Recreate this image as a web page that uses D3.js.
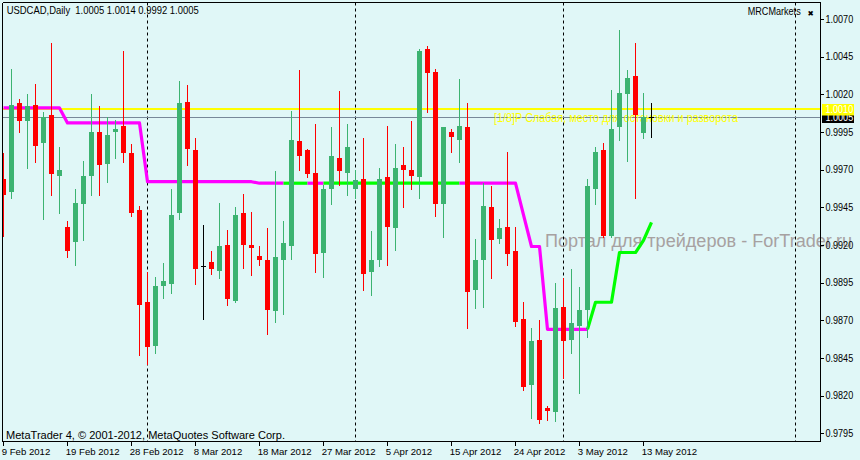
<!DOCTYPE html>
<html><head><meta charset="utf-8">
<script src="https://cdn.jsdelivr.net/npm/d3@7"></script>
<style>html,body{margin:0;padding:0;background:#e0f7f7;}svg{display:block;}</style>
</head><body><svg id="c" width="860" height="460"></svg>
<script>
// ---- data (USDCAD, Daily) ----
const opens  = [0.9964,0.9955,1.0014,1.0002,1.0013,0.9988,1.0006,0.9966,0.9932,0.9922,0.9947,0.9966,0.9995,0.9974,0.9995,0.9999,0.9981,0.9943,0.9882,0.9853,0.9893,0.9894,0.9941,1.0015,0.9983,0.9906,0.9909,0.9903,0.9920,0.9883,0.9941,0.9920,0.9913,0.9910,0.9876,0.9910,0.9919,0.9989,0.9983,0.9968,0.9915,0.9957,0.9978,0.9968,0.9957,0.9964,0.9902,0.9910,0.9965,0.9931,0.9973,0.9970,0.9965,1.0050,1.0035,0.9947,0.9995,0.9990,0.9998,0.9890,0.9910,0.9945,0.9924,0.9932,0.9916,0.9871,0.9827,0.9857,0.9812,0.9809,0.9879,0.9857,0.9866,0.9877,0.9957,0.9983,0.9926,0.9998,1.0020,1.0032,0.9994,1.0005];
const highs  = [0.9981,1.0037,1.0017,1.0020,1.0027,1.0008,1.0054,0.9985,0.9936,0.9957,0.9976,1.0020,1.0012,1.0005,1.0003,1.0049,0.9987,0.9946,0.9902,0.9899,0.9908,0.9957,1.0029,1.0026,0.9991,0.9933,0.9916,0.9948,0.9930,0.9945,0.9954,0.9942,0.9919,0.9931,0.9969,0.9936,1.0009,1.0036,0.9984,1.0000,0.9960,0.9998,1.0022,1.0000,0.9970,0.9991,0.9929,0.9971,0.9999,0.9987,0.9985,1.0002,1.0050,1.0052,1.0037,0.9998,0.9997,1.0030,1.0014,0.9924,0.9961,0.9959,0.9937,0.9982,0.9932,0.9882,0.9865,0.9870,0.9813,0.9895,0.9898,0.9904,0.9892,0.9964,0.9985,0.9988,1.0023,1.0063,1.0036,1.0054,1.0021,1.0014];
const lows   = [0.9926,0.9951,0.9995,0.9971,0.9975,0.9937,0.9953,0.9941,0.9912,0.9907,0.9923,0.9953,0.9953,0.9962,0.9978,0.9975,0.9939,0.9847,0.9841,0.9848,0.9885,0.9888,0.9937,0.9973,0.9894,0.9871,0.9901,0.9898,0.9880,0.9882,0.9905,0.9900,0.9907,0.9861,0.9869,0.9874,0.9911,0.9970,0.9965,0.9902,0.9899,0.9947,0.9960,0.9953,0.9951,0.9890,0.9887,0.9906,0.9907,0.9917,0.9945,0.9957,0.9951,1.0008,0.9939,0.9925,0.9982,0.9975,0.9865,0.9878,0.9879,0.9898,0.9921,0.9907,0.9866,0.9824,0.9805,0.9802,0.9804,0.9803,0.9832,0.9848,0.9822,0.9859,0.9947,0.9925,0.9925,0.9990,0.9976,0.9951,0.9991,0.9992];
const closes = [0.9953,1.0013,1.0002,1.0012,0.9986,1.0005,0.9967,0.9970,0.9916,0.9948,0.9966,0.9995,0.9973,0.9993,0.9997,0.9981,0.9941,0.9880,0.9852,0.9893,0.9896,0.9940,1.0014,0.9984,0.9904,0.9906,0.9904,0.9919,0.9884,0.9940,0.9920,0.9918,0.9910,0.9877,0.9912,0.9921,0.9990,0.9979,0.9967,0.9914,0.9957,0.9979,0.9969,0.9985,0.9963,0.9901,0.9910,0.9964,0.9932,0.9971,0.9970,0.9966,1.0049,1.0034,0.9947,0.9998,0.9992,0.9999,0.9889,0.9910,0.9946,0.9923,0.9931,0.9914,0.9869,0.9826,0.9856,0.9804,0.9810,0.9878,0.9856,0.9868,0.9877,0.9959,0.9982,0.9926,0.9997,1.0021,1.0031,1.0006,1.0005,1.0005];
// trailing trend indicator (per bar) and its direction (1 = up / green, 0 = down / magenta)
const trend = [1.0011,1.0011,1.0011,1.0011,1.0011,1.0011,1.0011,1.0011,
  1.0001,1.0001,1.0001,1.0001,1.0001,1.0001,1.0001,1.0001,1.0001,1.0001,
  0.9962,0.9962,0.9962,0.9962,0.9962,0.9962,0.9962,0.9962,0.9962,0.9962,0.9962,0.9962,0.9962,0.9962,
  0.9961,0.9961,0.9961,0.9961,0.9961,0.9961,0.9961,0.9961,0.9961,0.9961,0.9961,0.9961,0.9961,0.9961,0.9961,0.9961,0.9961,0.9961,0.9961,0.9961,0.9961,0.9961,0.9961,0.9961,0.9961,0.9961,0.9961,0.9961,0.9961,0.9961,0.9961,0.9961,0.9961,
  0.9940,0.9919,0.9919,
  0.9864,0.9864,0.9864,0.9864,0.9864,0.9864,
  0.9882,0.9882,0.9882,0.9915,0.9915,0.9915,0.9923,0.9935];
const trendUp = [0,0,0,0,0,0,0,0,0,0,0,0,0,0,0,0,0,0,0,0,0,0,0,0,0,0,0,0,0,0,0,0,0,0,0,0,
  1,1,1,0,0,
  1,1,1,1,1,1,1,1,1,1,1,1,1,1,1,1,1,
  0,0,0,0,0,0,0,0,0,0,0,0,0,0,0,0,
  1,1,1,1,1,1,1,1];
const separatorBars = [18, 44, 70, 99];
const xTickBars   = [0, 8, 16, 24, 32, 40, 48, 56, 64, 72, 80];
const xTickLabels = ["9 Feb 2012","19 Feb 2012","28 Feb 2012","8 Mar 2012","18 Mar 2012","27 Mar 2012","5 Apr 2012","15 Apr 2012","24 Apr 2012","3 May 2012","13 May 2012"];
const yTicks = [1.0070,1.0045,1.0020,0.9995,0.9970,0.9945,0.9920,0.9895,0.9870,0.9845,0.9820,0.9795];
const murreyLevel = 1.0010;
const murreyText = "[1/8]P Слабая, место для остановки и разворота";
const bid = 1.0005;
const title = "USDCAD,Daily  1.0005 1.0014 0.9992 1.0005";

// ---- drawing ----
const svg = d3.select("#c");
const F = "'Liberation Sans', Arial, sans-serif";
const P = {l:2.5, r:820.5, t:2.5, b:441.5};
const x = d3.scaleLinear().domain([0, 1]).range([3, 11]);        // bar index -> candle centre
const y = d3.scaleLinear().domain([0.9795, 1.0070]).range([433.3, 19]);
const ry = v => Math.round(y(v));

svg.append("rect").attr("width",860).attr("height",460).attr("fill","#e0f7f7");

svg.append("defs").append("clipPath").attr("id","clip")
  .append("rect").attr("x",P.l+0.5).attr("y",P.t+0.5).attr("width",P.r-P.l-1).attr("height",P.b-P.t-1);

// watermark (behind everything)
svg.append("text").attr("x",545).attr("y",246.5).attr("font-family",F).attr("font-size",17.5)
  .attr("fill","#a7a1a1").attr("textLength",307).attr("lengthAdjust","spacingAndGlyphs")
  .text("Портал для трейдеров - ForTrader.ru");

const g = svg.append("g").attr("clip-path","url(#clip)");

// period separators
g.selectAll("line.sep").data(separatorBars).join("line")
  .attr("x1",d=>x(d)+0.5).attr("x2",d=>x(d)+0.5).attr("y1",P.t).attr("y2",P.b)
  .attr("stroke","#000").attr("stroke-width",1).attr("stroke-dasharray","3,3");

// murrey level and bid line
g.append("line").attr("x1",P.l).attr("x2",P.r).attr("y1",ry(murreyLevel)).attr("y2",ry(murreyLevel))
  .attr("stroke","#ffff00").attr("stroke-width",2);
g.append("line").attr("x1",P.l).attr("x2",P.r).attr("y1",ry(bid)+0.5).attr("y2",ry(bid)+0.5)
  .attr("stroke","#778899").attr("stroke-width",1);
g.append("text").attr("x",494).attr("y",122).attr("font-family",F).attr("font-size",12)
  .attr("fill","#ffff00").attr("textLength",244).attr("lengthAdjust","spacingAndGlyphs").text(murreyText);

// trend indicator
const segs = [];
for (let i = 1; i < trend.length; i++) {
  const col = trendUp[i] ? "#00ff00" : "#ff00ff";
  if (segs.length && segs[segs.length-1].col === col) segs[segs.length-1].pts.push(i);
  else segs.push({col, pts:[i-1, i]});
}
const tl = d3.line().x(i => x(i)+0.5).y(i => y(trend[i]));
g.selectAll("path.trend").data(segs).join("path").attr("class","trend")
  .attr("d", d => tl(d.pts)).attr("fill","none").attr("stroke", d => d.col)
  .attr("stroke-width",3.2).attr("stroke-linejoin","round");

// candles
const bars = d3.range(opens.length).map(i => ({i, o:opens[i], h:highs[i], l:lows[i], c:closes[i]}));
const col = d => d.c > d.o ? "#3cb371" : (d.c < d.o ? "#ff0000" : "#000000");
const cg = g.append("g").attr("shape-rendering","crispEdges");
cg.selectAll("line.wick").data(bars).join("line")
  .attr("x1",d=>x(d.i)+0.5).attr("x2",d=>x(d.i)+0.5)
  .attr("y1",d=>ry(d.h)).attr("y2",d=>ry(d.l)+1).attr("stroke",col).attr("stroke-width",1);
cg.selectAll("rect.body").data(bars.filter(d=>d.o!==d.c)).join("rect")
  .attr("x",d=>x(d.i)-2).attr("width",5)
  .attr("y",d=>ry(Math.max(d.o,d.c)))
  .attr("height",d=>Math.max(1, ry(Math.min(d.o,d.c)) - ry(Math.max(d.o,d.c))))
  .attr("fill",col);
cg.selectAll("line.doji").data(bars.filter(d=>d.o===d.c)).join("line")
  .attr("x1",d=>x(d.i)-2).attr("x2",d=>x(d.i)+3)
  .attr("y1",d=>ry(d.o)+0.5).attr("y2",d=>ry(d.o)+0.5).attr("stroke","#000");

// frame
const fr = svg.append("g").attr("stroke","#000").attr("stroke-width",1).attr("shape-rendering","crispEdges");
fr.append("line").attr("x1",P.l).attr("x2",P.r).attr("y1",P.t).attr("y2",P.t);
fr.append("line").attr("x1",P.l).attr("x2",P.r).attr("y1",P.b).attr("y2",P.b);
fr.append("line").attr("x1",P.l).attr("x2",P.l).attr("y1",P.t).attr("y2",P.b);
fr.append("line").attr("x1",P.r).attr("x2",P.r).attr("y1",P.t).attr("y2",P.b);

// y axis
const ya = svg.append("g");
ya.selectAll("line").data(yTicks).join("line").attr("x1",P.r).attr("x2",824)
  .attr("y1",d=>ry(d)+0.5).attr("y2",d=>ry(d)+0.5).attr("stroke","#000").attr("shape-rendering","crispEdges");
ya.selectAll("text").data(yTicks).join("text").attr("x",825.5).attr("y",d=>y(d)+3.6)
  .attr("font-family",F).attr("font-size",10).attr("fill","#000")
  .attr("textLength",27.7).attr("lengthAdjust","spacingAndGlyphs").text(d=>d.toFixed(4));

// x axis
const xa = svg.append("g");
xa.selectAll("line").data(xTickBars).join("line").attr("x1",d=>x(d)+0.5).attr("x2",d=>x(d)+0.5)
  .attr("y1",P.b).attr("y2",446).attr("stroke","#000").attr("shape-rendering","crispEdges");
xa.selectAll("text").data(xTickBars).join("text").attr("x",d=>x(d)-1.3).attr("y",455)
  .attr("font-family",F).attr("font-size",9.6).attr("fill","#000").text((d,i)=>xTickLabels[i]);

// price labels
const bidY = y(bid), mY = y(murreyLevel);
svg.append("rect").attr("x",822).attr("y",Math.round(bidY)-6).attr("width",32).attr("height",12).attr("fill","#000");
svg.append("text").attr("x",825.5).attr("y",bidY+4).attr("font-family",F).attr("font-size",10).attr("fill","#fff")
  .attr("textLength",27.7).attr("lengthAdjust","spacingAndGlyphs").text(bid.toFixed(4));
svg.append("rect").attr("x",822).attr("y",Math.round(mY)-5).attr("width",32).attr("height",11.5).attr("fill","#ffff00");
svg.append("text").attr("x",825.5).attr("y",mY+4).attr("font-family",F).attr("font-size",10).attr("fill","#fff")
  .attr("textLength",27.7).attr("lengthAdjust","spacingAndGlyphs").text(murreyLevel.toFixed(4));

// texts
svg.append("text").attr("x",6.7).attr("y",14.3).attr("font-family",F).attr("font-size",10.8).attr("fill","#000")
  .attr("textLength",192).attr("lengthAdjust","spacingAndGlyphs").attr("xml:space","preserve")
  .style("white-space","pre").text(title);
svg.append("text").attr("x",747.7).attr("y",15.3).attr("font-family",F).attr("font-size",10.5).attr("fill","#000")
  .attr("textLength",53).attr("lengthAdjust","spacingAndGlyphs").text("MRCMarkets");
svg.append("text").attr("x",807.5).attr("y",15.5).attr("font-family","'DejaVu Sans', sans-serif").attr("font-size",7.5)
  .attr("fill","#000").text("✖");
svg.append("text").attr("x",6).attr("y",439.3).attr("font-family",F).attr("font-size",11.5).attr("fill","#000")
  .attr("textLength",279).attr("lengthAdjust","spacingAndGlyphs")
  .text("MetaTrader 4, © 2001-2012, MetaQuotes Software Corp.");
</script></body></html>
